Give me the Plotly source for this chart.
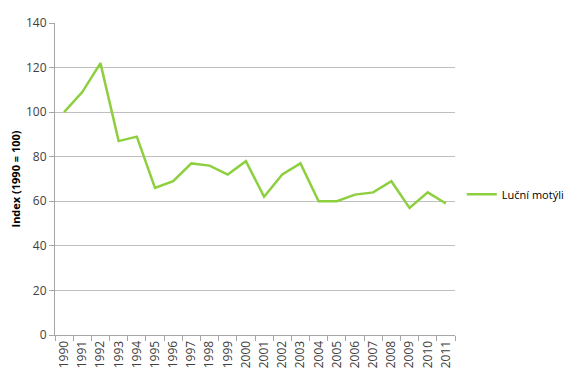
import plotly.graph_objects as go

years = [str(y) for y in range(1990, 2012)]
values = [100, 109, 122, 87, 89, 66, 69, 77, 76, 72, 78, 62, 72, 77, 60, 60, 63, 64, 69, 57, 64, 59]
y_ticks = [0, 20, 40, 60, 80, 100, 120, 140]
series_name = "Luční motýli"
y_title = "Index (1990 = 100)"

fig = go.Figure()
fig.add_trace(go.Scatter(
    x=years, y=values, mode="lines", name=series_name,
    line=dict(color="#8DCF3F", width=2.5),
))

fig.update_layout(
    width=563, height=368,
    margin=dict(l=47, r=116, t=15, b=41),
    paper_bgcolor="white", plot_bgcolor="white",
    font=dict(family="Open Sans, Lato, sans-serif", size=12, color="#404040"),
    showlegend=True,
    legend=dict(xref="container", yref="container", x=0.806, y=0.494,
                xanchor="left", yanchor="middle",
                font=dict(size=11, color="#000000"), bgcolor="rgba(0,0,0,0)",
                itemwidth=30),
)
fig.update_xaxes(
    type="category", tickangle=-90, showgrid=False, automargin=False,
    range=[-0.5, len(years) - 0.5],
    showline=True, linecolor="#a6a6a6", linewidth=1,
    ticks="outside", tickson="boundaries", ticklen=5, tickcolor="#a6a6a6",
    tickfont=dict(size=12, color="#404040"),
)
fig.update_yaxes(
    range=[0, 140], tickvals=y_ticks, showgrid=True, gridcolor="#bfbfbf", gridwidth=1,
    showline=True, linecolor="#a6a6a6", linewidth=1, automargin=False,
    ticks="outside", ticklen=5, tickcolor="#a6a6a6",
    tickfont=dict(size=12, color="#404040"),
    title=dict(text="<b>" + y_title + "</b>", font=dict(size=11, color="#000000"), standoff=14),
    zeroline=False,
)

fig.write_html("out.html", config={"responsive": False})
